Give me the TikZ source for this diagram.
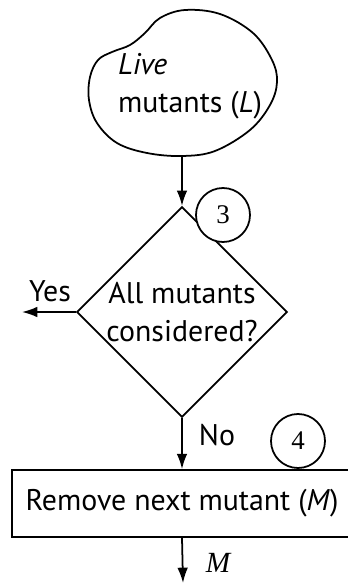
\documentclass[tikz,border=0pt]{standalone}
\usepackage{fontspec}
\setmainfont{PT Sans}
\newfontfamily\numfont{Liberation Serif}
\usetikzlibrary{shapes.geometric}
\usetikzlibrary{arrows.meta}

\begin{document}
\begin{tikzpicture} [x=0.03cm, y=-0.03cm, line width=1.5pt,
        every node/.style={font=\fontsize{25.5}{32}\selectfont},
        arrow/.style={-{Latex[length=0.46cm,width=0.32cm]}},
        numring/.style={draw,circle,fill=white,minimum size=1.62cm,inner sep=0pt,
            font=\numfont\fontsize{23}{23}\selectfont},
        decision/.style={draw,diamond,align=center,inner sep=0pt,
            minimum width=6.15cm,minimum height=6.09cm},
        stepbox/.style={draw,minimum width=10.2cm,minimum height=2.01cm}]
            \useasboundingbox (0,0) rectangle (348,584);

            % pool of live mutants
            \draw plot[smooth cycle, tension=0.6] coordinates {
                (90,77) (98,60) (112,52) (130,45) (145,33) (160,18) (185,10)
                (220,14) (253,33) (272,60) (277,82) (270,105) (250,130)
                (215,151) (182,156) (147,153) (117,143) (97,123) (89,100)};
            \coordinate (pool) at (182,156);
            \node[align=left, inner sep=0pt] (live) at (190,86) {\textit{Live}\\mutants (\textit{L})};

            \node[decision] (dec) at (182,312) {All mutants\\considered?};
            \node[numring] (n3) at (223,215) {3};
            \node[stepbox] (rem) at (182,503.5) {Remove next mutant (\textit{M})};
            \node[numring] (n4) at (298,441) {4};

            \coordinate (yesend) at (22,312);
            \coordinate (mend) at (183,583);
            \node (yes) at (50,291) {Yes};
            \node (no) at (217,435) {No};
            \node[font=\numfont\itshape\fontsize{25}{25}\selectfont] (m) at (218,563) {M};

            \draw[arrow] (pool) -- (dec.north);
            \draw[arrow] (dec.west) -- (yesend);
            \draw[arrow] (dec.south) -- (rem.north);
            \draw[arrow] (rem.south) -- (mend);
        \end{tikzpicture}
\end{document}
